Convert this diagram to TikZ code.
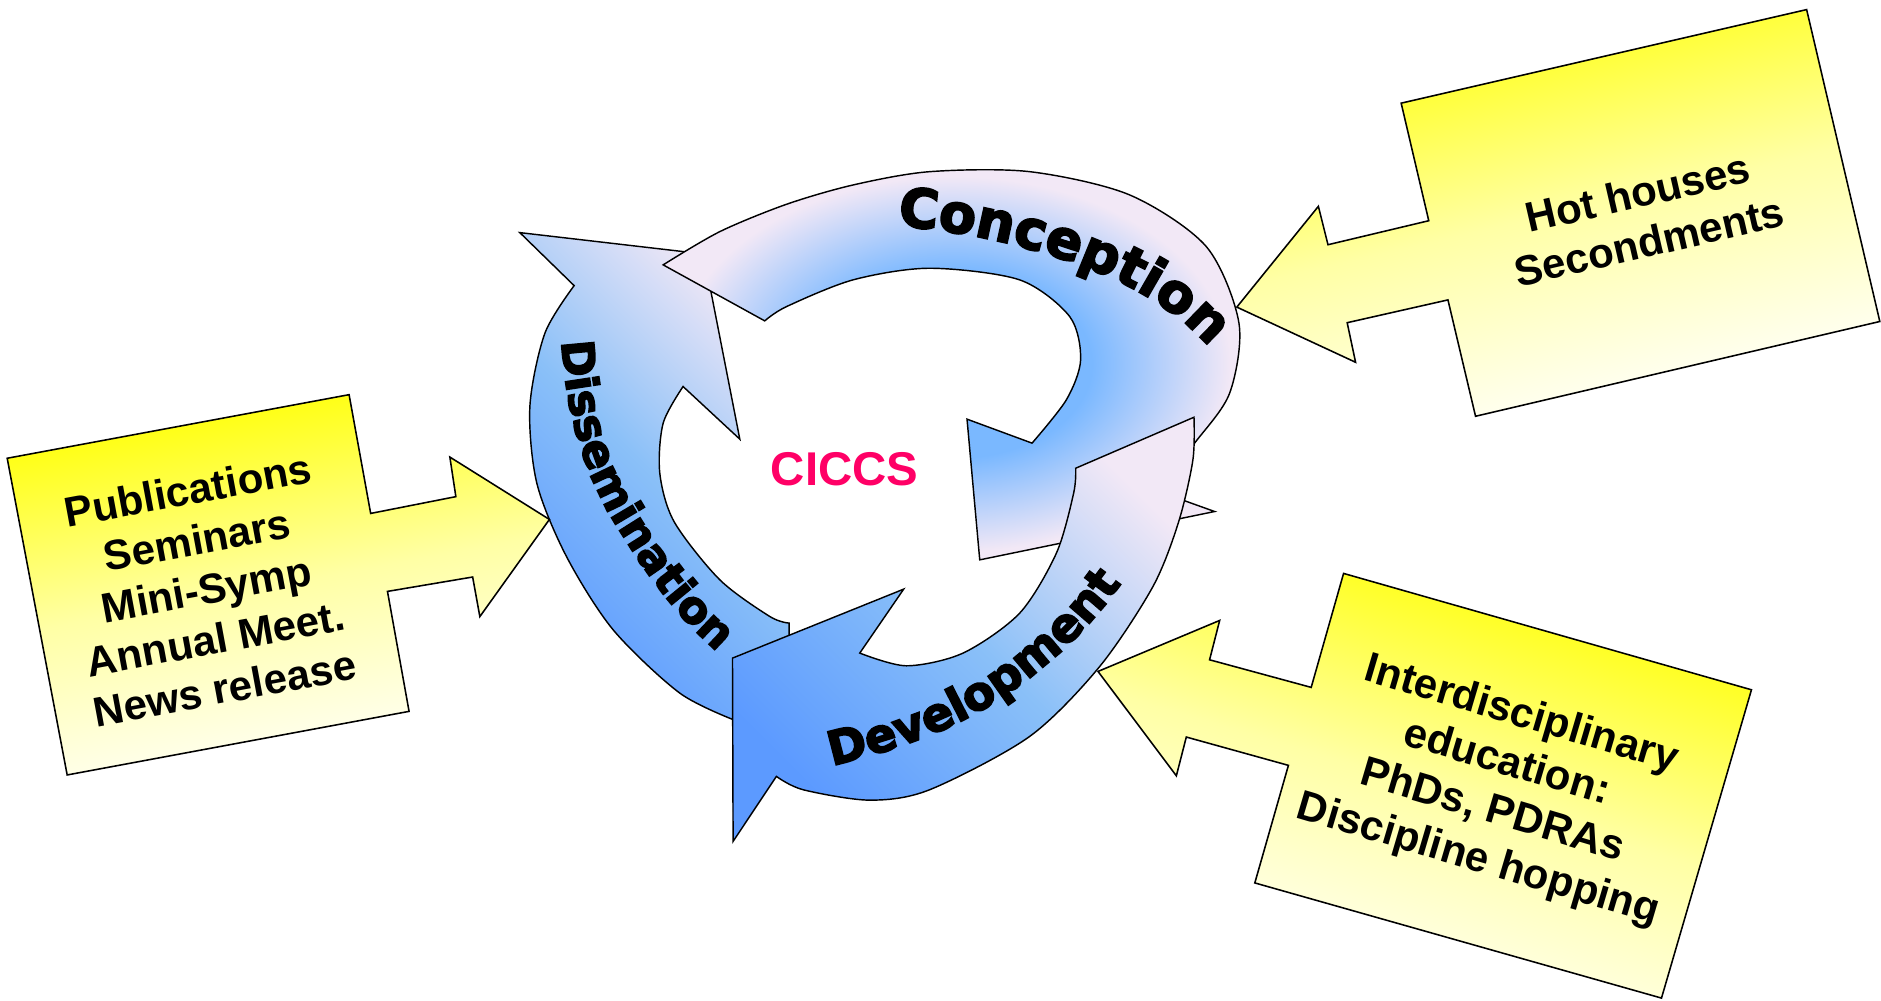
\documentclass[tikz,border=0pt]{standalone}
\usepackage{fontspec}
\setmainfont{Liberation Sans}
\newfontfamily\ringface{DejaVu Sans Bold}[FakeBold=3.5]
\usetikzlibrary{decorations.text}

\definecolor{ringlav}{RGB}{242,232,246}
\definecolor{ringblue}{RGB}{122,184,255}
\definecolor{ringmid}{RGB}{138,192,248}
\definecolor{ringdeep}{RGB}{92,154,255}
\definecolor{calloutyellow}{RGB}{255,255,0}
\definecolor{calloutpale}{RGB}{255,255,165}
\definecolor{cicpink}{RGB}{255,0,102}

% glow for the upper arrow: blue towards the middle, lavender outside
\pgfdeclareradialshading{conglow}{\pgfpoint{0bp}{0bp}}{%
  color(0bp)=(ringblue); color(12bp)=(ringblue);
  color(24bp)=(ringlav); color(50bp)=(ringlav)}

\tikzset{
  band/.style={draw=black, line width=1.2pt, line join=miter},
  sweep/.style={band, top color=ringlav, bottom color=ringdeep,
    middle color=ringmid, shading angle=#1},
  callout/.style={draw=black, line width=1.3pt, line join=miter,
    top color=calloutyellow, bottom color=white,
    middle color=calloutpale, shading angle=#1},
  callouttext/.style={font=\bfseries\fontsize{35}{42}\selectfont,
    align=center, text=black, inner sep=0pt},
}

\begin{document}
\begin{tikzpicture}[x=1pt, y=-1pt]
\useasboundingbox (0,0) rectangle (1568,834);

% ---------- Dissemination arrow (left, pointing up) ----------
\path[sweep=-45]
  (478.6,238.1) -- (433.3,193.9) -- (586.5,211.7) -- (616.7,366.1) -- (569.4,322.2)
  -- plot[smooth] coordinates {(569.4,322.2) (552.8,352.8) (550,394.4)
     (562,435) (600,483.3) (641.7,513.9) (657.8,519.4)}
  -- (657.8,570) -- (614,601)
  -- plot[smooth] coordinates {(614,601) (566.7,577.8) (511.1,525)
     (472.2,463.9) (447.5,402.8) (441.7,338.9) (454.2,277.8) (478.6,238.1)}
  -- cycle;

% ---------- Conception arrow (top, pointing down on the right) ----------
\path[band, shading=conglow]
  (552.8,220.8)
  -- plot[smooth] coordinates {(552.8,220.8) (600,193.1) (655.6,170.3)
     (711.1,154.2) (775,143.1) (858.3,143.1) (941.7,162.5) (1005.6,205.6)
     (1032.8,269.4) (1025,327.8) (995.8,369.4) (964,409)}
  -- (1012.5,426.4) -- (816.7,466.7) -- (806.1,349.4) -- (860.3,369.4)
  -- plot[smooth] coordinates {(860.3,369.4) (888.9,333.3) (900.8,300)
     (891.7,263.9) (850,233.3) (775,223.6) (711.1,233.3) (655.6,255.6)
     (637.5,267.5)}
  -- cycle;

% ---------- Development arrow (lower right, pointing left) ----------
\path[sweep=-45]
  (896.7,390.3) -- (995.3,347.8)
  -- plot[smooth] coordinates {(995.3,347.8) (994.4,383.3) (982.5,435)
     (961.1,488.9) (916.7,555.6) (858.3,613.9) (775,658.3) (725,667)
     (669.4,658.3) (647.2,647.2)}
  -- (611.1,701.4) -- (610.6,548.6) -- (753.3,491.1) -- (716.7,544.4)
  -- plot[smooth] coordinates {(716.7,544.4) (755.6,555) (802.8,544.4)
     (850,511.1) (880.6,461.1) (895,411) (896.7,390.3)}
  -- cycle;

% ---------- labels on the ring ----------
\path[decorate, decoration={text along path, text align=center,
    text={|\ringface\fontsize{45}{50}\selectfont|Conception}}]
  (745,188) .. controls (800,192) and (845,203) .. (880,214)
  .. controls (930,230) and (980,255) .. (1010,292);
\path[decorate, decoration={text along path, text align=center,
    text={|\ringface\fontsize{37}{44}\selectfont|Dissemination}}]
  (468,282) .. controls (471,345) and (488,400) .. (520,448)
  .. controls (540,480) and (565,515) .. (600,545);
\path[decorate, decoration={text along path, text align=center,
    text={|\ringface\fontsize{39}{46}\selectfont|Development}}]
  (690,639) .. controls (740,628) and (790,610) .. (825,588)
  .. controls (870,560) and (910,523) .. (937,483);

\node[font=\bfseries\fontsize{39.5}{44}\selectfont, text=cicpink] (ciccs) at (704,391) {CICCS};

% ---------- callouts ----------
\path[callout=10.5]
  (6,382) -- (291,329) -- (309,428) -- (380,414) -- (375,381) -- (458,433)
  -- (400,514) -- (394,481) -- (323,493) -- (341,593) -- (56,646) -- cycle;
\node[callouttext, rotate=10.5] (pubtext) at (172,491)
  {Publications\\Seminars\\Mini-Symp\\Annual Meet.\\News release};

\path[callout=13]
  (1168,86) -- (1506,8) -- (1567,268) -- (1230,347) -- (1207,250) -- (1123,269)
  -- (1130,302) -- (1031,256) -- (1099,172) -- (1107,204) -- (1191,184) -- cycle;
\node[callouttext, rotate=13] (hottext) at (1370,181) {Hot houses\\Secondments};

\path[callout=-16.5]
  (1120,478) -- (1460,575) -- (1385,832) -- (1046,736) -- (1074,638) -- (988.9,614.4)
  -- (980.6,646.7) -- (915.3,559.7) -- (1016.7,517.2) -- (1008.3,550) -- (1093,573) -- cycle;
\node[callouttext, rotate=-16.5] (edutext) at (1250,657)
  {Interdisciplinary\\education:\\PhDs, PDRAs\\Discipline hopping};
\end{tikzpicture}
\end{document}
